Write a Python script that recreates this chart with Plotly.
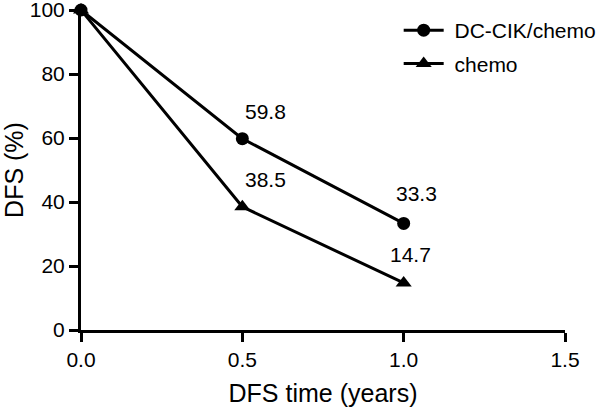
import plotly.graph_objects as go

years = [0.0, 0.5, 1.0]
dc_cik = [100, 59.8, 33.3]
chemo = [100, 38.5, 14.7]
dc_labels = ["", "59.8", "33.3"]
chemo_labels = ["", "38.5", "14.7"]

FONT = "Liberation Sans, Arial, sans-serif"
NB = "\u00a0"

fig = go.Figure()
fig.add_trace(go.Scatter(
    x=years, y=dc_cik, name=NB + "DC-CIK/chemo", mode="lines+markers",
    legendgroup="a",
    line=dict(color="black", width=3),
    marker=dict(symbol="circle", size=13, color="black"),
    cliponaxis=False,
))
fig.add_trace(go.Scatter(
    x=years, y=chemo, name=NB + "chemo", mode="lines+markers",
    legendgroup="b",
    line=dict(color="black", width=3),
    marker=dict(symbol="triangle-up", size=14, color="black"),
    cliponaxis=False,
))

shifts_dc = {0.5: (23, 27), 1.0: (13, 30)}
shifts_ch = {0.5: (23, 27), 1.0: (7, 28)}
for xv, yv, t in zip(years, dc_cik, dc_labels):
    if t:
        dx, dy = shifts_dc[xv]
        fig.add_annotation(x=xv, y=yv, text=t, showarrow=False, xshift=dx, yshift=dy,
                           font=dict(size=21, color="black", family=FONT))
for xv, yv, t in zip(years, chemo, chemo_labels):
    if t:
        dx, dy = shifts_ch[xv]
        fig.add_annotation(x=xv, y=yv, text=t, showarrow=False, xshift=dx, yshift=dy,
                           font=dict(size=21, color="black", family=FONT))

fig.update_layout(
    width=612, height=407,
    margin=dict(l=81, r=45, t=10, b=77),
    paper_bgcolor="white", plot_bgcolor="white",
    font=dict(family=FONT, size=21, color="black"),
    showlegend=True,
    legend=dict(x=(400 - 81) / 486, y=(330 - 10) / 320, xanchor="left", yanchor="top",
                bgcolor="rgba(0,0,0,0)", itemwidth=40, tracegroupgap=3,
                font=dict(size=21, family=FONT, color="black")),
    xaxis=dict(range=[0, 1.5], tickvals=[0, 0.5, 1.0, 1.5], ticktext=["0.0", "0.5", "1.0", "1.5"],
               showline=True, linecolor="black", linewidth=3, ticks="outside",
               ticklen=9, tickwidth=3, tickcolor="black", showgrid=False, zeroline=False,
               automargin=False, ticklabeloverflow="allow",
               title=dict(text="DFS time (years)", standoff=18),
               tickfont=dict(size=21)),
    yaxis=dict(range=[0, 100], tickvals=[0, 20, 40, 60, 80, 100],
               showline=True, linecolor="black", linewidth=3, ticks="outside",
               ticklen=9, tickwidth=3, tickcolor="black", showgrid=False, zeroline=False,
               automargin=False, ticklabeloverflow="allow",
               title=dict(text="DFS (%)", standoff=8),
               tickfont=dict(size=21)),
)

fig.write_html("out.html", config={"displayModeBar": False},
               post_script="document.body.style.margin='0';")
